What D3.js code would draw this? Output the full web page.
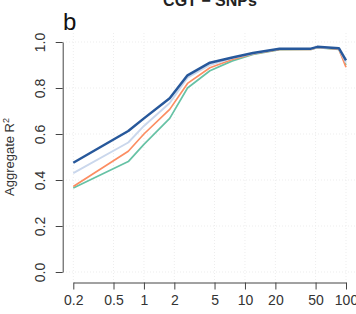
<!DOCTYPE html>
<html>
<head>
<meta charset="utf-8">
<script src="https://cdn.jsdelivr.net/npm/d3@7"></script>
<style>
  body { margin: 0; background: #fff; }
  text { font-family: "Liberation Sans", Arial, sans-serif; }
</style>
</head>
<body>
<div id="chart"></div>
<script>
// x positions of the points (log axis)
const xVals = [0.2, 0.7, 1, 1.8, 2.7, 4.5, 7.5, 12, 22, 45, 52, 85, 100];

const greenVals  = [0.365, 0.48, 0.555, 0.668, 0.80, 0.875, 0.918, 0.946, 0.967, 0.968, 0.975, 0.968, 0.90];
const orangeVals = [0.372, 0.525, 0.60, 0.707, 0.82, 0.888, 0.924, 0.948, 0.968, 0.968, 0.976, 0.969, 0.89];
const lightVals  = [0.43, 0.563, 0.635, 0.735, 0.845, 0.900, 0.930, 0.950, 0.970, 0.970, 0.977, 0.971, 0.91];
const darkVals   = [0.475, 0.613, 0.668, 0.755, 0.855, 0.910, 0.933, 0.952, 0.971, 0.971, 0.979, 0.973, 0.92];

const xTicks = [0.2, 0.5, 1, 2, 5, 10, 20, 50, 100];
const yTicks = [0, 0.2, 0.4, 0.6, 0.8, 1.0];

function main() {
    const width = 356, height = 314;

    const svg = d3.select("#chart").append("svg")
        .attr("width", width)
        .attr("height", height);

    const x = d3.scaleLog().domain([0.2, 100]).range([73.3, 346]);
    const y = d3.scaleLinear().domain([0, 1]).range([272, 42]);

    // dotted grid
    const grid = svg.append("g").attr("class", "grid")
        .attr("stroke", "#ededed")
        .attr("stroke-dasharray", "1,2");
    grid.selectAll(".h").data(yTicks).enter().append("line")
        .attr("x1", 63).attr("x2", width)
        .attr("y1", d => y(d)).attr("y2", d => y(d));
    grid.selectAll(".v").data(xTicks).enter().append("line")
        .attr("x1", d => x(d)).attr("x2", d => x(d))
        .attr("y1", 33).attr("y2", 281);

    // series
    const series = [
        {vals: greenVals,  color: "#66c2a5", w: 1.7},
        {vals: orangeVals, color: "#fc8d62", w: 1.7},
        {vals: lightVals,  color: "#cad7ec", w: 1.9},
        {vals: darkVals,   color: "#27589b", w: 2.5}
    ];
    const line = d3.line()
        .x((d, i) => x(xVals[i]))
        .y(d => y(d));
    svg.append("g").selectAll("path")
        .data(series)
        .enter().append("path")
        .attr("fill", "none")
        .attr("stroke", d => d.color)
        .attr("stroke-width", d => d.w)
        .attr("stroke-linejoin", "round")
        .attr("d", d => line(d.vals));

    // x axis
    const xAxis = svg.append("g")
        .attr("transform", "translate(0,282.5)")
        .call(d3.axisBottom(x)
            .tickValues(xTicks)
            .tickFormat(d => String(d))
            .tickSize(7)
            .tickSizeOuter(0)
            .tickPadding(6));
    xAxis.selectAll("path, line").attr("stroke", "#444");
    xAxis.selectAll("text")
        .attr("font-size", 14)
        .attr("fill", "#333")
        .attr("font-family", "Liberation Sans, Arial, sans-serif");

    // y axis
    const yAxis = svg.append("g")
        .attr("transform", "translate(62.7,0)")
        .call(d3.axisLeft(y)
            .tickValues(yTicks)
            .tickFormat(d3.format(".1f"))
            .tickSize(7)
            .tickSizeOuter(0));
    yAxis.selectAll("path, line").attr("stroke", "#444");
    yAxis.selectAll("text")
        .attr("transform", "rotate(-90)")
        .attr("x", 0)
        .attr("y", -18)
        .attr("dy", 0)
        .attr("text-anchor", "middle")
        .attr("font-size", 14)
        .attr("fill", "#333")
        .attr("font-family", "Liberation Sans, Arial, sans-serif");

    // y label
    const yl = svg.append("text")
        .attr("transform", "translate(14,157) rotate(-90)")
        .attr("text-anchor", "middle")
        .attr("font-size", 13)
        .attr("fill", "#333");
    yl.append("tspan").text("Aggregate R");
    yl.append("tspan").attr("baseline-shift", "super").attr("font-size", 9).text("2");

    // title (cut off at the top as in the source figure)
    svg.append("text")
        .attr("x", 210).attr("y", 6)
        .attr("text-anchor", "middle")
        .attr("font-size", 16)
        .attr("font-weight", "bold")
        .attr("fill", "#222")
        .text("CGT \u2212 SNPs");

    // panel letter
    svg.append("text")
        .attr("x", 63).attr("y", 30)
        .attr("font-size", 24)
        .attr("fill", "#111")
        .text("b");
}
main();
</script>
</body>
</html>
